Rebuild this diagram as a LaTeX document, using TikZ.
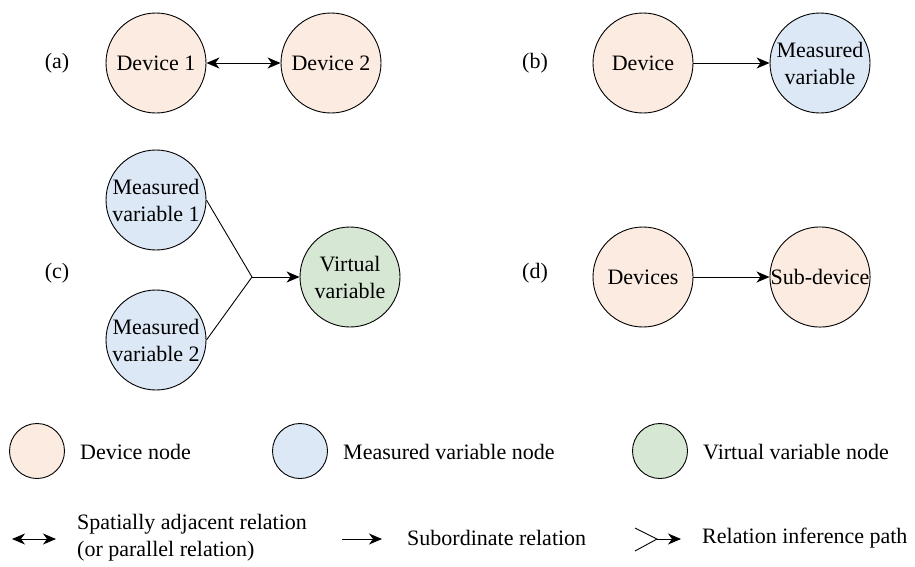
\documentclass[tikz,border=0pt]{standalone}
\usepackage{fontspec}
\setmainfont{Liberation Serif}
\usetikzlibrary{arrows.meta, positioning}

\definecolor{devfill}{RGB}{252,235,224}
\definecolor{measfill}{RGB}{220,232,246}
\definecolor{virtfill}{RGB}{214,232,212}

\begin{document}
\begin{tikzpicture}[x = 1pt, y = -1pt,
	font = \fontsize{22}{27}\selectfont,
	tip/.tip = {Stealth[length = 13pt, width = 11pt, inset = 4pt]},
	bignode/.style = {circle, draw, line width = 0.9pt, minimum size = 100pt, inner sep = 0pt, align = center},
	keynode/.style = {circle, draw, line width = 0.9pt, minimum size = 55pt, inner sep = 0pt},
	rel/.style = {line width = 0.9pt, -tip},
	relboth/.style = {line width = 0.9pt, tip-tip},
	txt/.style = {anchor = west, inner sep = 0pt, align = left}]

	\useasboundingbox (0, 0) rectangle (915, 566);

	% (a) Spatially adjacent devices

	\node (la) at (57, 63) {(a)};
	\node [bignode, fill = devfill] (dev1) at (156, 63) {Device 1};
	\node [bignode, fill = devfill] (dev2) at (331, 63) {Device 2};
	\draw [relboth] (dev1) -- (dev2);

	% (b) Device and its measured variable

	\node (lb) at (535, 63) {(b)};
	\node [bignode, fill = devfill] (dev) at (643, 63) {Device};
	\node [bignode, fill = measfill] (meas) at (820, 63) {Measured\\variable};
	\draw [rel] (dev) -- (meas);

	% (c) Virtual variable inferred from measured ones

	\node (lc) at (57, 273) {(c)};
	\node [bignode, fill = measfill] (meas1) at (156, 200) {Measured\\variable 1};
	\node [bignode, fill = measfill] (meas2) at (156, 340) {Measured\\variable 2};
	\node [bignode, fill = virtfill] (virt) at (350, 277) {Virtual\\variable};
	\coordinate (join) at (252, 277);
	\draw [line width = 0.9pt] (meas1.east) -- (join) -- (meas2.east);
	\draw [rel] (join) -- (virt);

	% (d) Devices and sub-device

	\node (ld) at (535, 273) {(d)};
	\node [bignode, fill = devfill] (devs) at (643, 277) {Devices};
	\node [bignode, fill = devfill] (sub) at (820, 277) {Sub-device};
	\draw [rel] (devs) -- (sub);

	% Legend: nodes

	\node [keynode, fill = devfill] (kdev) at (37, 451) {};
	\node [txt] (tdev) at (80, 452) {Device node};
	\node [keynode, fill = measfill] (kmeas) at (300, 451) {};
	\node [txt] (tmeas) at (343, 452) {Measured variable node};
	\node [keynode, fill = virtfill] (kvirt) at (660, 451) {};
	\node [txt] (tvirt) at (703, 452) {Virtual variable node};

	% Legend: relations

	\coordinate (ka1) at (12, 539);
	\coordinate (ka2) at (56, 539);
	\draw [relboth] (ka1) -- (ka2);
	\node [txt] (tadj) at (77, 538) {Spatially adjacent relation\\(or parallel relation)};

	\coordinate (kb1) at (342, 539);
	\coordinate (kb2) at (382, 539);
	\draw [rel] (kb1) -- (kb2);
	\node [txt] (tsub) at (407, 538) {Subordinate relation};

	\coordinate (kc1) at (635, 528);
	\coordinate (kc2) at (657, 539);
	\coordinate (kc3) at (635, 551);
	\coordinate (kc4) at (681, 539);
	\draw [line width = 0.9pt] (kc1) -- (kc2) -- (kc3);
	\draw [rel] (kc2) -- (kc4);
	\node [txt] (tinf) at (702, 538) {Relation inference path};

\end{tikzpicture}
\end{document}
